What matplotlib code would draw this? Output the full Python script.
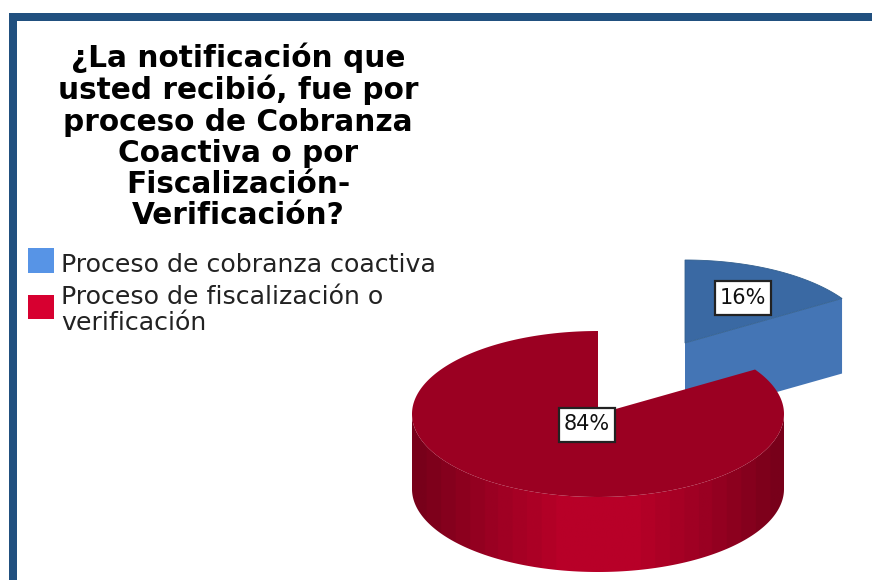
import numpy as np
import matplotlib
matplotlib.use("Agg")
import matplotlib.pyplot as plt
from matplotlib.patches import Polygon, Rectangle
from matplotlib.colors import LinearSegmentedColormap

plt.rcParams["font.family"] = ["DejaVu Sans"]

TITLE = "¿La notificación que\nusted recibió, fue por\nproceso de Cobranza\nCoactiva o por\nFiscalización-\nVerificación?"
categories = ["Proceso de cobranza coactiva", "Proceso de fiscalización o\nverificación"]
values = [16, 84]
legend_colors = ["#5794E6", "#D70030"]
top_colors = ["#3A69A3", "#9B0022"]
wall_colors = ["#4475B5", "#7D0019"]

W, H = 872, 580
RX, RY = 186, 83
DEPTH = 75
CX, CY = 598, 414      # centre of the large slice
BLUE_CX, BLUE_CY = 685, 343   # the small slice is pulled out


def arc(cx, cy, a0, a1, n=200):
    a = np.radians(np.linspace(a0, a1, n))
    return np.column_stack([cx + RX * np.cos(a), cy - RY * np.sin(a)])


fig = plt.figure(figsize=(W / 100, H / 100), dpi=100)
ax = fig.add_axes([0, 0, 1, 1])
ax.set_xlim(0, W)
ax.set_ylim(H, 0)
ax.axis("off")

# frame
ax.add_patch(Rectangle((9, 13), W - 9, 8, facecolor="#21507F", edgecolor="none"))
ax.add_patch(Rectangle((9, 13), 8, H - 13, facecolor="#21507F", edgecolor="none"))

# slice angles, clockwise from 12 o'clock
split = 90 - values[0] / sum(values) * 360

# small slice: cut face first, then the top
apex = np.array([BLUE_CX, BLUE_CY])
tip = arc(BLUE_CX, BLUE_CY, split, split, 1)[0]
ax.add_patch(Polygon([apex, tip, tip + [0, DEPTH], apex + [0, DEPTH]],
                     facecolor=wall_colors[0], edgecolor="none", zorder=2))
ax.add_patch(Polygon(np.vstack([apex, arc(BLUE_CX, BLUE_CY, split, 90)]),
                     facecolor=top_colors[0], edgecolor="#33608F", linewidth=0.6, zorder=3))

# large slice: outer wall with vertical shading, then the top
front = arc(CX, CY, 180, 360)
wall = Polygon(np.vstack([front, (front + [0, DEPTH])[::-1]]), facecolor="none", edgecolor="none")
ax.add_patch(wall)
shade = LinearSegmentedColormap.from_list(
    "wall", ["#78001A", "#9A0022", "#B80028", "#B80028", "#9A0022", "#78001A"], N=26)
img = ax.imshow(np.linspace(0, 1, 256)[None, :], cmap=shade, aspect="auto",
                extent=(CX - RX, CX + RX, CY + RY + DEPTH, CY), zorder=4)
img.set_clip_path(wall)
ax.set_xlim(0, W)
ax.set_ylim(H, 0)
ax.add_patch(Polygon(np.vstack([[CX, CY], arc(CX, CY, 90, split + 360, 400)]),
                     facecolor=top_colors[1], edgecolor="none", zorder=5))

# value labels
label_pos = [(742.5, 298), (586.5, 424.5)]
for v, (x, y) in zip(values, label_pos):
    ax.add_patch(Rectangle((x - 28, y - 17), 56, 34, facecolor="white", edgecolor="#222222",
                           linewidth=1.6, zorder=6))
    ax.text(x, y, f"{v}%", fontsize=15, color="#111111", ha="center", va="center", zorder=7)

# title
ax.text(238, 136, TITLE, fontsize=21.3, fontweight="bold", color="#000000", ha="center", va="center",
        linespacing=1.09, zorder=7)

# legend
ax.add_patch(Rectangle((28, 248), 26, 25, facecolor=legend_colors[0], edgecolor="none"))
ax.add_patch(Rectangle((28, 295), 26, 24, facecolor=legend_colors[1], edgecolor="none"))
ax.text(61, 265, categories[0], fontsize=18.2, color="#222222", ha="left", va="center")
ax.text(61, 310, categories[1], fontsize=18.2, color="#222222", ha="left", va="center", linespacing=1.12)

fig.savefig("out.png", dpi=100)
